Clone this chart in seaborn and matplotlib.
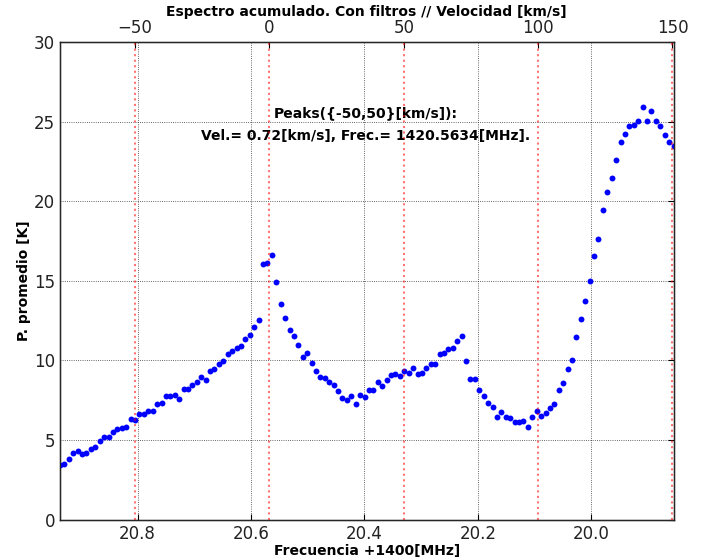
import numpy as np
import pandas as pd
import matplotlib
matplotlib.use('Agg')
import matplotlib.pyplot as plt
import seaborn as sns

# Canales de frecuencia (MHz, referidos a +1400)
f_ini = 20.937
f_fin = 19.855
n_canales = 140

# Potencia promedio [K] por canal
potencia = [3.43, 3.48, 3.83, 4.19, 4.31, 4.12, 4.19, 4.44, 4.54, 4.92,
            5.17, 5.17, 5.49, 5.67, 5.78, 5.84, 6.34, 6.24, 6.64, 6.64,
            6.82, 6.82, 7.24, 7.31, 7.75, 7.75, 7.81, 7.56, 8.22, 8.22,
            8.47, 8.66, 8.98, 8.79, 9.33, 9.46, 9.76, 9.96, 10.38, 10.61,
            10.78, 10.90, 11.34, 11.59, 12.08, 12.52,
            16.07, 16.13, 16.62, 14.90, 13.56, 12.64, 11.91, 11.53, 10.99, 10.19,
            10.45, 9.82, 9.33, 8.98, 8.91, 8.63, 8.47, 8.10, 7.62, 7.51,
            7.77, 7.26, 7.81, 7.68, 8.12, 8.12, 8.63, 8.41, 8.75, 9.08,
            9.15, 9.04, 9.33, 9.21, 9.52, 9.15, 9.21, 9.52, 9.76, 9.76,
            10.38, 10.45, 10.70, 10.76, 11.24, 11.53, 9.94, 8.83, 8.83, 8.12,
            7.75, 7.31,
            7.07, 6.47, 6.78, 6.47, 6.38, 6.15, 6.11, 6.18, 5.84, 6.47,
            6.82, 6.53, 6.72, 7.01, 7.26, 8.12, 8.60, 9.46, 10.03, 11.49,
            12.58, 13.75, 14.96, 16.57, 17.60, 19.44, 20.59, 21.47, 22.56, 23.73,
            24.21, 24.71, 24.78, 25.03, 25.93, 25.03, 25.64, 25.03, 24.71, 24.17,
            23.73, 23.46]

# Velocidades marcadas (lineas rojas) [km/s]
vel_marcas = [-50, 0, 50, 100, 150]
ticks_frec = [20.8, 20.6, 20.4, 20.2, 20.0]
ticks_vel = [-50, 0, 50, 100, 150]

# Frecuencia de referencia para velocidad 0
f_ref = 20.5676
c_luz = 299792.458


def frec_a_vel(f):
    return c_luz * (f_ref - np.asarray(f)) / (1400 + f_ref)


frecuencia = f_ini + (f_fin - f_ini) * np.arange(n_canales) / (n_canales - 1)
df = pd.DataFrame({'frec': frecuencia, 'pot': potencia})

sns.set_style('white')
plt.rcParams['font.family'] = ['DejaVu Sans']
plt.rcParams['text.color'] = 'k'
plt.rcParams['axes.labelcolor'] = 'k'

fig = plt.figure(figsize=(7.04, 5.6), dpi=100)
ax = fig.add_axes([0.0852, 0.072, 0.8715, 0.853])

sns.scatterplot(data=df, x='frec', y='pot', ax=ax, color='#0000ff',
                s=18, linewidth=0, zorder=3, clip_on=True)

ax.set_xlim(f_ini, f_fin)
ax.set_ylim(0, 30)
ax.set_xticks(ticks_frec)
ax.set_yticks([0, 5, 10, 15, 20, 25, 30])
ax.grid(True, color='k', linestyle=':', linewidth=0.6, alpha=0.8)
ax.tick_params(direction='in', length=4, labelsize=12, top=False, right=True,
               colors='k', labelcolor='#222222')
for sp in ax.spines.values():
    sp.set_color('k')
    sp.set_linewidth(1.0)

ax.set_xlabel('Frecuencia +1400[MHz]', fontsize=10, fontweight='bold', labelpad=1)
ax.set_ylabel('P. promedio [K]', fontsize=10, fontweight='bold', labelpad=2)

ax2 = ax.twiny()
ax2.set_xlim(frec_a_vel(f_ini), frec_a_vel(f_fin))
ax2.set_xticks(ticks_vel)
ax2.tick_params(direction='in', length=4, labelsize=12, colors='k',
                labelcolor='#222222')
for v in vel_marcas:
    ax2.axvline(v, color='red', linestyle=':', linewidth=1.5, alpha=0.55, zorder=2)
ax2.set_title('Espectro acumulado. Con filtros // Velocidad [km/s]',
              fontsize=10, fontweight='bold', pad=0.5)

ax.text(20.398, 25.5, 'Peaks({-50,50}[km/s]):', ha='center', va='center',
        fontsize=10, fontweight='bold')
ax.text(20.398, 24.1, 'Vel.= 0.72[km/s], Frec.= 1420.5634[MHz].',
        ha='center', va='center', fontsize=10, fontweight='bold')

fig.savefig('out.png', dpi=100)
